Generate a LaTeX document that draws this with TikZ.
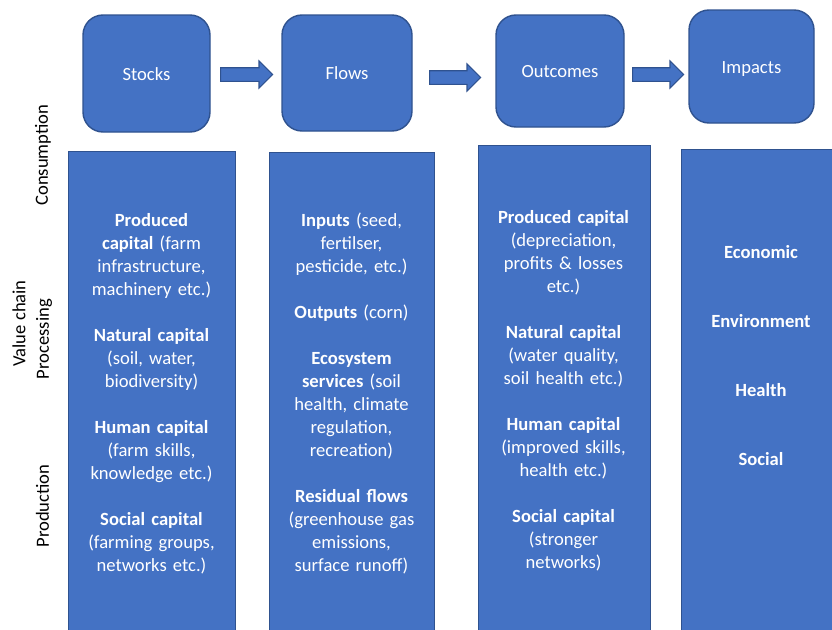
\documentclass[tikz,border=0pt]{standalone}
\usepackage{fontspec}
\setmainfont{Carlito}
\usetikzlibrary{shapes.arrows,positioning}
\definecolor{boxblue}{HTML}{4472C4}
\definecolor{boxedge}{HTML}{2F528F}
\tikzset{
    %Define style for the heading boxes
    headbox/.style={
           rectangle,
           rounded corners=20pt,
           draw=boxedge, line width=1.4pt,
           fill=boxblue,
           text=white,
           text height=13pt, text depth=0pt,
           font=\fontsize{18.6}{23}\selectfont,
           text centered},
    %Define style for the tall columns
    colbox/.style={
           rectangle,
           draw=boxedge, line width=1.2pt,
           fill=boxblue,
           anchor=north west,
           minimum height=520pt},
    %Define style for the column texts
    coltext/.style={
           anchor=base,
           inner sep=0pt,
           text width=160pt,
           align=center,
           text=white,
           font=\fontsize{18.6}{23}\selectfont},
    % Define block arrow style
    blockarrow/.style={
           single arrow,
           anchor=tail,
           draw=boxedge, line width=1.1pt,
           fill=boxblue,
           inner sep=0pt, inner ysep=6.25pt,
           single arrow head extend=6.75pt,
           single arrow head indent=0pt,
           minimum height=51pt},
    sidelabel/.style={
           rotate=90,
           inner sep=0pt,
           font=\fontsize{18.6}{23}\selectfont}
}

\begin{document}
\begin{tikzpicture}[x=1pt,y=-1pt]
\useasboundingbox (0,0) rectangle (832,629);
\clip (0,0) rectangle (832,629);
 %heading boxes
\node[headbox, minimum width=127pt, minimum height=117pt] (stocks) at (146.5,73.5) {Stocks};
\node[headbox, minimum width=130pt, minimum height=116pt] (flows) at (347,73) {Flows};
\node[headbox, minimum width=128pt, minimum height=112pt] (outcomes) at (560,71) {Outcomes};
\node[headbox, minimum width=125pt, minimum height=113pt] (impacts) at (751.5,66.5) {Impacts};
 %arrows between them
\node[blockarrow, minimum height=52pt] (arr1) at (220,74.5) {};
\node[blockarrow] (arr2) at (429,77.5) {};
\node[blockarrow] (arr3) at (632,74.5) {};
 %columns
\node[colbox, minimum width=167pt] (stockcol) at (68,151) {};
\node[colbox, minimum width=165pt] (flowcol) at (269,152) {};
\node[colbox, minimum width=172pt] (outcomecol) at (478,145) {};
\node[colbox, minimum width=170pt] (impactcol) at (681,149) {};
 %column texts
\node[coltext] (stocktext) at (151.5,226) {\textbf{Produced}\\ \textbf{capital} (farm\\ infrastructure,\\ machinery etc.)\\[23pt]
    \textbf{Natural capital}\\ (soil, water,\\ biodiversity)\\[23pt]
    \textbf{Human capital}\\ (farm skills,\\ knowledge etc.)\\[23pt]
    \textbf{Social capital}\\ (farming groups,\\ networks etc.)};
\node[coltext] (flowtext) at (351.5,226) {\textbf{Inputs} (seed,\\ fertilser,\\ pesticide, etc.)\\[23pt]
    \textbf{Outputs} (corn)\\[23pt]
    \textbf{Ecosystem}\\ \textbf{services} (soil\\ health, climate\\ regulation,\\ recreation)\\[23pt]
    \textbf{Residual flows}\\ (greenhouse gas\\ emissions,\\ surface runoff)};
\node[coltext] (outcometext) at (563.5,223) {\textbf{Produced capital}\\ (depreciation,\\ profits \& losses\\ etc.)\\[23pt]
    \textbf{Natural capital}\\ (water quality,\\ soil health etc.)\\[23pt]
    \textbf{Human capital}\\ (improved skills,\\ health etc.)\\[23pt]
    \textbf{Social capital}\\ (stronger\\ networks)};
\node[coltext] (impacttext) at (761,258) {\textbf{Economic}\\[46pt] \textbf{Environment}\\[46pt] \textbf{Health}\\[46pt] \textbf{Social}};
 %side labels
\node[sidelabel] (consumption) at (43,155) {Consumption};
\node[sidelabel] (valuechain) at (19,323.5) {Value chain};
\node[sidelabel] (processing) at (44,339) {Processing};
\node[sidelabel] (production) at (42.5,506) {Production};
\end{tikzpicture}
\end{document}
